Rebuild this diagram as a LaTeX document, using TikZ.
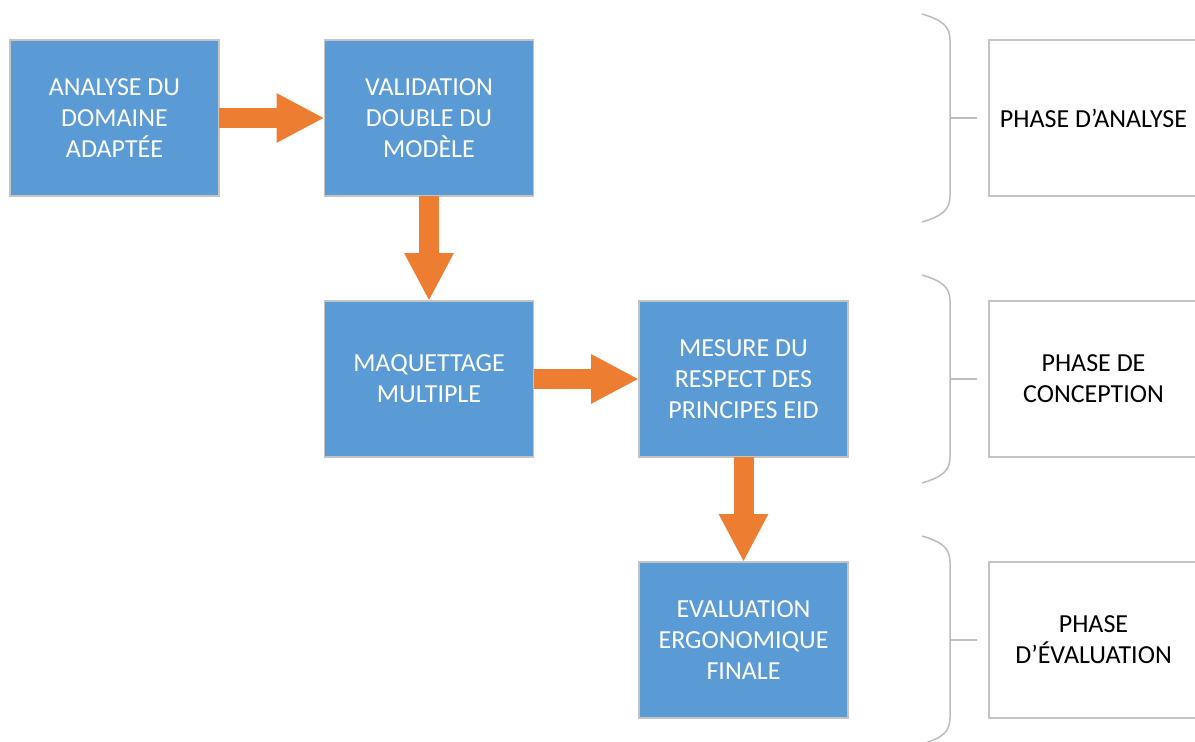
\documentclass[tikz,border=0pt]{standalone}
\usepackage{fontspec}
\setmainfont{Carlito}
\usetikzlibrary{arrows.meta}
\definecolor{boxblue}{HTML}{5B9BD5}
\definecolor{arrorange}{HTML}{ED7D31}
\definecolor{edgegray}{HTML}{C4C4C4}
\definecolor{bracegray}{HTML}{BDBDBD}
\tikzset{
  stepbox/.style={draw=edgegray, line width=1.5pt, fill=boxblue, text=white,
    minimum width=209pt, minimum height=156pt, inner sep=0pt, outer sep=0pt,
    align=center, font=\fontsize{26}{31}\selectfont},
  phasebox/.style={draw=edgegray, line width=1.5pt, fill=white, text=black,
    minimum width=209pt, minimum height=156pt, inner sep=0pt, outer sep=0pt,
    align=center, font=\fontsize{26}{31}\selectfont},
  bigarrow/.style={arrorange, line width=20pt,
    -{Triangle[width=46pt,length=48pt]}},
  bracepath/.style={draw=bracegray, line width=1.5pt},
}
\begin{document}
\begin{tikzpicture}[x=1pt,y=-1pt]
\useasboundingbox (0,0) rectangle (1195,742);
\clip (0,0) rectangle (1195,742);
\fill[white] (0,0) rectangle (1195,742);

\node[stepbox] (a) at (114.5,118) {ANALYSE DU\\DOMAINE\\ADAPTÉE};
\node[stepbox] (b) at (429,118) {VALIDATION\\DOUBLE DU\\MODÈLE};
\node[stepbox] (c) at (429,379) {MAQUETTAGE\\MULTIPLE};
\node[stepbox] (d) at (743.5,379) {MESURE DU\\RESPECT DES\\PRINCIPES EID};
\node[stepbox] (e) at (743.5,640) {EVALUATION\\ERGONOMIQUE\\FINALE};

\draw[bigarrow] (a.east) -- (b.west);
\draw[bigarrow] (b.south) -- (c.north);
\draw[bigarrow] (c.east) -- (d.west);
\draw[bigarrow] (d.south) -- (e.north);

\node[phasebox] (p1) at (1093.5,118) {PHASE D’ANALYSE};
\node[phasebox] (p2) at (1093.5,379) {PHASE DE\\CONCEPTION};
\node[phasebox] (p3) at (1093.5,640) {PHASE\\D’ÉVALUATION};

\foreach \cy/\pn in {118/p1,379/p2,640/p3}{
  \draw[bracepath] (922,\cy-104) .. controls (942,\cy-98) and (950,\cy-92) .. (950,\cy-78)
     -- (950,\cy+78) .. controls (950,\cy+92) and (942,\cy+98) .. (922,\cy+104);
  \coordinate (t\pn) at (950,\cy);
  \draw[bracepath] (t\pn) -- ([xshift=-12pt]\pn.west |- t\pn);
}
\end{tikzpicture}
\end{document}
